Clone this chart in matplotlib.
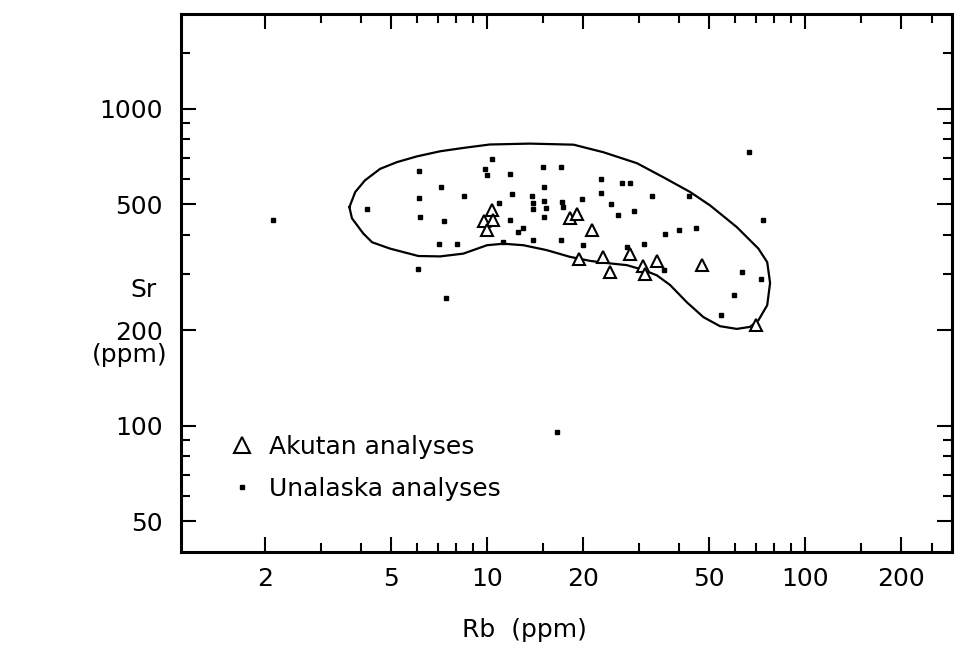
import matplotlib
matplotlib.use("Agg")
import matplotlib.pyplot as plt
from matplotlib.ticker import FixedLocator, NullFormatter, FixedFormatter

# Akutan analyses (open triangles)
akutan_rb = [10.35, 9.78, 10.47, 10.0, 18.2, 19.2, 21.3, 19.4, 23.2, 24.4,
             28.1, 30.9, 31.4, 34.2, 47.4, 69.9]
akutan_sr = [480, 442, 444, 413, 451, 464, 413, 335, 341, 306,
             349, 320, 301, 331, 321, 208]

# Unalaska analyses (dots)
unalaska_rb = [2.12, 4.18, 6.11, 7.17, 8.47, 6.12, 6.17, 7.31, 7.06, 8.05,
               10.37, 9.86, 10.0, 11.84, 15.04, 17.05, 15.11, 11.98, 13.85, 13.98,
               13.98, 15.11, 15.33, 17.17, 17.34, 19.9, 22.78, 22.83, 24.55, 25.76,
               10.88, 15.11, 11.81, 12.95, 12.52, 13.92, 17.09, 20.08, 26.58, 28.17,
               33.1, 29.05, 36.37, 40.17, 45.42, 27.63, 31.17, 43.17, 66.8, 73.8,
               36.03, 63.1, 72.7, 59.8, 54.4, 6.08, 7.43, 16.56, 11.23]
unalaska_sr = [447, 481, 635, 568, 531, 524, 457, 442, 374, 374,
               696, 643, 620, 623, 657, 654, 568, 539, 531, 504,
               484, 510, 485, 507, 488, 520, 601, 542, 499, 463,
               504, 455, 444, 421, 408, 386, 385, 372, 584, 584,
               530, 475, 402, 413, 419, 365, 374, 532, 729, 447,
               310, 305, 291, 259, 223, 311, 252, 95.5, 379]

# field outline of the Unalaska data
env_rb = [3.69, 3.85, 4.13, 4.61, 5.20, 6.01, 7.12, 8.42, 10.2, 13.65, 18.7,
          23.2, 29.6, 35.8, 43.5, 50.3, 61.0, 71.3, 76.0, 77.6, 76.0, 71.3,
          67.1, 61.0, 54.0, 47.9, 42.5, 37.6, 34.2, 31.0, 27.5, 24.4, 21.1,
          18.2, 15.4, 13.0, 11.25, 10.0, 8.42, 7.12, 6.08, 4.95, 4.35, 4.08,
          3.76, 3.69]
env_sr = [489, 546, 594, 646, 678, 707, 734, 752, 771, 776, 770,
          729, 673, 608, 546, 495, 423, 362, 328, 282, 240, 215,
          205, 202, 206, 220, 245, 278, 298, 310, 321, 325, 331,
          341, 358, 371, 375, 371, 349, 342, 343, 362, 379, 404,
          451, 489]

x_major = [2, 5, 10, 20, 50, 100, 200]
x_minor = [3, 4, 6, 7, 8, 9, 15, 30, 40, 60, 70, 80, 90, 150, 250]
y_major = [50, 100, 200, 500, 1000]
y_minor = [60, 70, 80, 90, 300, 400, 600, 700, 800, 900, 1500]

plt.rcParams['font.family'] = ['DejaVu Sans']

fig = plt.figure(figsize=(9.56, 6.5), dpi=100)
ax = fig.add_axes([0.189, 0.151, 0.8065, 0.827])
ax.set_xscale('log')
ax.set_yscale('log')
ax.set_xlim(1.088, 289)
ax.set_ylim(40, 1985)

ax.plot(env_rb, env_sr, color='black', lw=1.6)
ax.plot(unalaska_rb, unalaska_sr, linestyle='none', marker='s', ms=2.6,
        color='black', label='Unalaska analyses')
ax.plot(akutan_rb, akutan_sr, linestyle='none', marker='^', ms=9,
        mfc='white', mec='black', mew=1.5, label='Akutan analyses')

for s in ax.spines.values():
    s.set_linewidth(2.2)

ax.xaxis.set_major_locator(FixedLocator(x_major))
ax.xaxis.set_major_formatter(FixedFormatter([str(v) for v in x_major]))
ax.xaxis.set_minor_locator(FixedLocator(x_minor))
ax.xaxis.set_minor_formatter(NullFormatter())
ax.yaxis.set_major_locator(FixedLocator(y_major))
ax.yaxis.set_major_formatter(FixedFormatter([str(v) for v in y_major]))
ax.yaxis.set_minor_locator(FixedLocator(y_minor))
ax.yaxis.set_minor_formatter(NullFormatter())

ax.tick_params(which='both', direction='in', top=True, right=True, width=1.5,
               labelsize=18)
ax.tick_params(which='major', length=11)
ax.tick_params(which='minor', length=6.5)
ax.tick_params(axis='x', which='major', pad=11)
ax.tick_params(axis='y', which='major', pad=13)

h, l = ax.get_legend_handles_labels()
leg = ax.legend(h[::-1], l[::-1], loc='center left',
                bbox_to_anchor=(0.066, 0.156), frameon=False, fontsize=18,
                handlelength=0.8, handletextpad=0.7, labelspacing=0.7,
                borderpad=0, borderaxespad=0, markerscale=1.25)

fig.text(144 / 956, 1 - 290 / 650, 'Sr', fontsize=18, ha='center', va='center')
fig.text(130 / 956, 1 - 355 / 650, '(ppm)', fontsize=18, ha='center', va='center')
fig.text(524 / 956, 1 - 630 / 650, 'Rb  (ppm)', fontsize=18, ha='center', va='center')

fig.savefig('out.png', dpi=100)
